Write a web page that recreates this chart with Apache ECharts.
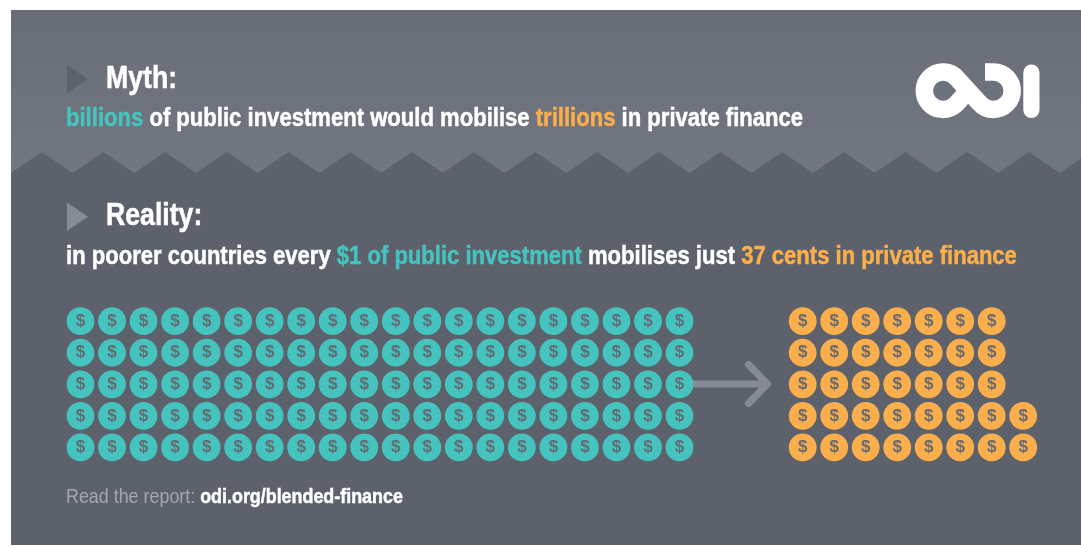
<!DOCTYPE html>
<html><head><meta charset="utf-8">
<style>html,body{margin:0;padding:0;background:#fff}#c{width:1081px;height:546px}</style>
<script src="https://cdn.jsdelivr.net/npm/echarts@6/dist/echarts.min.js"></script>
</head><body><div id="c"></div>
<script>
const rows = [0, 1, 2, 3, 4];
const publicCoinsPerRow = [20, 20, 20, 20, 20];
const privateCoinsPerRow = [7, 7, 7, 8, 8];
const mythTitle = 'Myth:';
const realityTitle = 'Reality:';
const mythLine = [['t', 'billions'], ['w', ' of public investment would mobilise '], ['o', 'trillions'], ['w', ' in private finance']];
const realityLine = [['w', 'in poorer countries every '], ['t', '$1 of public investment'], ['w', ' mobilises just '], ['o', '37 cents in private finance']];
const footer = [['g', 'Read the report: '], ['f', 'odi.org/blended-finance']];

const TEAL = '#45c4bf', ORANGE = '#fbae4c', FONT = '"Liberation Sans", Arial, sans-serif';
const richOf = segs => segs.map(s => '{' + s[0] + '|' + s[1] + '}').join('');
const coins = counts => counts.flatMap((n, r) => Array.from({length: n}, (_, c) => [c, rows[r]]));
const boldSeg = (fill, size) => ({fill, stroke: fill, lineWidth: 0.5, fontSize: size, fontWeight: 'bold', fontFamily: FONT});
const lineRich = size => ({
  t: boldSeg(TEAL, size),
  o: boldSeg(ORANGE, size),
  w: boldSeg('#fff', size),
  g: {fill: '#a3a6ac', stroke: 'transparent', lineWidth: 0, fontSize: size, fontFamily: FONT},
  f: boldSeg('#fff', size)
});
const txt = (x, y, text, size, sx, rich) => ({
  type: 'text', x, y, scaleX: sx, z: 10,
  style: rich
    ? {text, fontSize: size, fontFamily: FONT, textVerticalAlign: 'middle', rich}
    : {text, fill: '#fff', stroke: '#fff', lineWidth: 0.5, fontSize: size, fontWeight: 'bold', fontFamily: FONT, textVerticalAlign: 'middle'}
});
// decorative zigzag edge between the two panel tones
const zig = [[11, 173]];
for (let x = 10.9; x + 61.7 < 1081; x += 61.7) { zig.push([x + 30.85, 152]); zig.push([x + 61.7, 173]); }
const lastP = zig[zig.length - 1];
zig.push([lastP[0] + 30.85, 152], [1081, 152 + (1081 - lastP[0] - 30.85) * 21 / 30.85], [1081, 545], [11, 545]);

echarts.graphic.registerShape('odiLogo', echarts.graphic.extendPath(
  'M985 72 H993.5 A18.7 18.7 0 1 1 979.5 103.1 L957 78.3 A18.7 18.7 0 1 0 957 103.1 L968 90.7', {}));

const axisOff = {type: 'value', show: false};
const coinSeries = (name, data, color, idx) => ({
  name, type: 'scatter', data, xAxisIndex: idx, yAxisIndex: idx, symbol: 'circle', symbolSize: 27.8,
  itemStyle: {color, opacity: 1}, silent: true, z: 5,
  label: {show: true, position: 'inside', formatter: '$', color: '#666b73', fontSize: 17, fontWeight: 'bold', fontFamily: '"Liberation Sans Narrow", "Liberation Sans", Arial, sans-serif'}
});
const chart = echarts.init(document.getElementById('c'), null, {renderer: 'canvas'});
chart.setOption({
  animation: false,
  backgroundColor: '#ffffff',
  grid: [
    {left: 80.5, top: 321.2, width: 599, height: 126.2},
    {left: 802.7, top: 321.2, width: 220.5, height: 126.2}
  ],
  xAxis: [{...axisOff, gridIndex: 0, min: 0, max: 19}, {...axisOff, gridIndex: 1, min: 0, max: 7}],
  yAxis: [{...axisOff, gridIndex: 0, min: 0, max: 4, inverse: true}, {...axisOff, gridIndex: 1, min: 0, max: 4, inverse: true}],
  series: [
    coinSeries('Public investment', coins(publicCoinsPerRow), TEAL, 0),
    coinSeries('Private finance', coins(privateCoinsPerRow), ORANGE, 1)
  ],
  graphic: {elements: [
    {type: 'rect', z: -10, shape: {x: 11, y: 10, width: 1070, height: 535},
      style: {fill: new echarts.graphic.LinearGradient(0, 0, 0, 0.3, [{offset: 0, color: '#696d77'}, {offset: 1, color: '#727680'}])}},
    {type: 'polygon', z: -9, shape: {points: zig}, style: {fill: '#5c616b'}},
    {type: 'polygon', z: -8, shape: {points: [[67, 65], [88, 79], [67, 93.3]]}, style: {fill: '#5c616b'}},
    {type: 'polygon', z: -8, shape: {points: [[67, 202.5], [88, 216.8], [67, 231]]}, style: {fill: '#878b93'}},
    {type: 'polyline', z: -7, shape: {points: [[690, 384], [767, 384]]}, style: {stroke: '#868a92', lineWidth: 7, fill: 'none'}},
    {type: 'polyline', z: -7, shape: {points: [[748.5, 364.5], [767.5, 384], [748.5, 403.5]]}, style: {stroke: '#868a92', lineWidth: 7, lineCap: 'round', lineJoin: 'round', fill: 'none'}},
    {type: 'odiLogo', z: 8, style: {stroke: '#fff', lineWidth: 17.5, fill: 'none'}},
    {type: 'rect', z: 8, shape: {x: 1023.3, y: 64.5, width: 16.2, height: 53.5, r: 8.1}, style: {fill: '#fff'}},
    txt(106, 79, mythTitle, 31, 0.86),
    txt(106, 216.5, realityTitle, 31, 0.86),
    txt(66, 119, richOf(mythLine), 25, 0.883, lineRich(25)),
    txt(66, 257, richOf(realityLine), 25, 0.882, lineRich(25)),
    txt(66, 497.5, richOf(footer), 20, 0.894, lineRich(20))
  ]}
});
</script></body></html>
